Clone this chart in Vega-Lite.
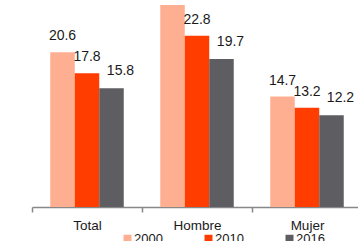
{
  "$schema": "https://vega.github.io/schema/vega-lite/v6.json",
  "autosize": {"type": "none"},
  "width": 326,
  "height": 207,
  "padding": {"left": 32, "top": 0, "right": 0, "bottom": 34},
  "background": "white",
  "config": {"view": {"stroke": null}},
  "data": {
    "values": [
      {"grupo": "Total", "anio": "2000", "valor": 20.6, "etiqueta": "20.6"},
      {"grupo": "Total", "anio": "2010", "valor": 17.8, "etiqueta": "17.8"},
      {"grupo": "Total", "anio": "2016", "valor": 15.8, "etiqueta": "15.8"},
      {"grupo": "Hombre", "anio": "2000", "valor": 26.9, "etiqueta": "26.9"},
      {"grupo": "Hombre", "anio": "2010", "valor": 22.8, "etiqueta": "22.8"},
      {"grupo": "Hombre", "anio": "2016", "valor": 19.7, "etiqueta": "19.7"},
      {"grupo": "Mujer", "anio": "2000", "valor": 14.7, "etiqueta": "14.7"},
      {"grupo": "Mujer", "anio": "2010", "valor": 13.2, "etiqueta": "13.2"},
      {"grupo": "Mujer", "anio": "2016", "valor": 12.2, "etiqueta": "12.2"}
    ]
  },
  "encoding": {
    "x": {
      "field": "grupo", "type": "nominal", "sort": ["Total", "Hombre", "Mujer"],
      "scale": {"range": [0, 330], "paddingInner": 0, "paddingOuter": 0},
      "axis": {
        "title": null, "domainColor": "#888888", "domainWidth": 1.5, "tickColor": "#888888", "tickWidth": 1.5,
        "tickSize": 5, "tickBand": "extent", "labelAngle": 0, "labelFont": "Liberation Sans",
        "labelFontSize": 13.5, "labelColor": "#1a1a1a", "labelPadding": 6, "grid": false
      }
    },
    "xOffset": {
      "field": "anio", "type": "nominal", "sort": ["2000", "2010", "2016"],
      "scale": {"paddingInner": 0, "paddingOuter": 0.745}
    },
    "y": {
      "field": "valor", "type": "quantitative",
      "scale": {"domain": [0, 27.56], "nice": false, "zero": true},
      "axis": null
    }
  },
  "layer": [
    {
      "mark": {"type": "bar"},
      "encoding": {
        "color": {
          "field": "anio", "type": "nominal", "sort": ["2000", "2010", "2016"],
          "scale": {"domain": ["2000", "2010", "2016"], "range": ["#FFAF91", "#FF3D00", "#5E5D62"]},
          "legend": {
            "title": null, "orient": "none", "direction": "horizontal", "legendX": 89, "legendY": 232,
            "symbolType": "square", "symbolSize": 64, "symbolStrokeWidth": 0, "labelFont": "Liberation Sans",
            "labelFontSize": 13, "labelColor": "#1a1a1a", "labelOffset": 0, "columnPadding": 39, "padding": 0,
            "gridAlign": "all"
          }
        }
      }
    },
    {
      "transform": [{"filter": "datum.anio != '2016'"}],
      "mark": {"type": "text", "dy": -12, "baseline": "alphabetic", "font": "Liberation Sans", "fontSize": 14, "color": "#1a1a1a"},
      "encoding": {"text": {"field": "etiqueta"}}
    },
    {
      "transform": [{"filter": "datum.anio == '2016'"}],
      "mark": {"type": "text", "dx": 9, "dy": -13, "baseline": "alphabetic", "font": "Liberation Sans", "fontSize": 14, "color": "#1a1a1a"},
      "encoding": {"text": {"field": "etiqueta"}}
    }
  ]
}
